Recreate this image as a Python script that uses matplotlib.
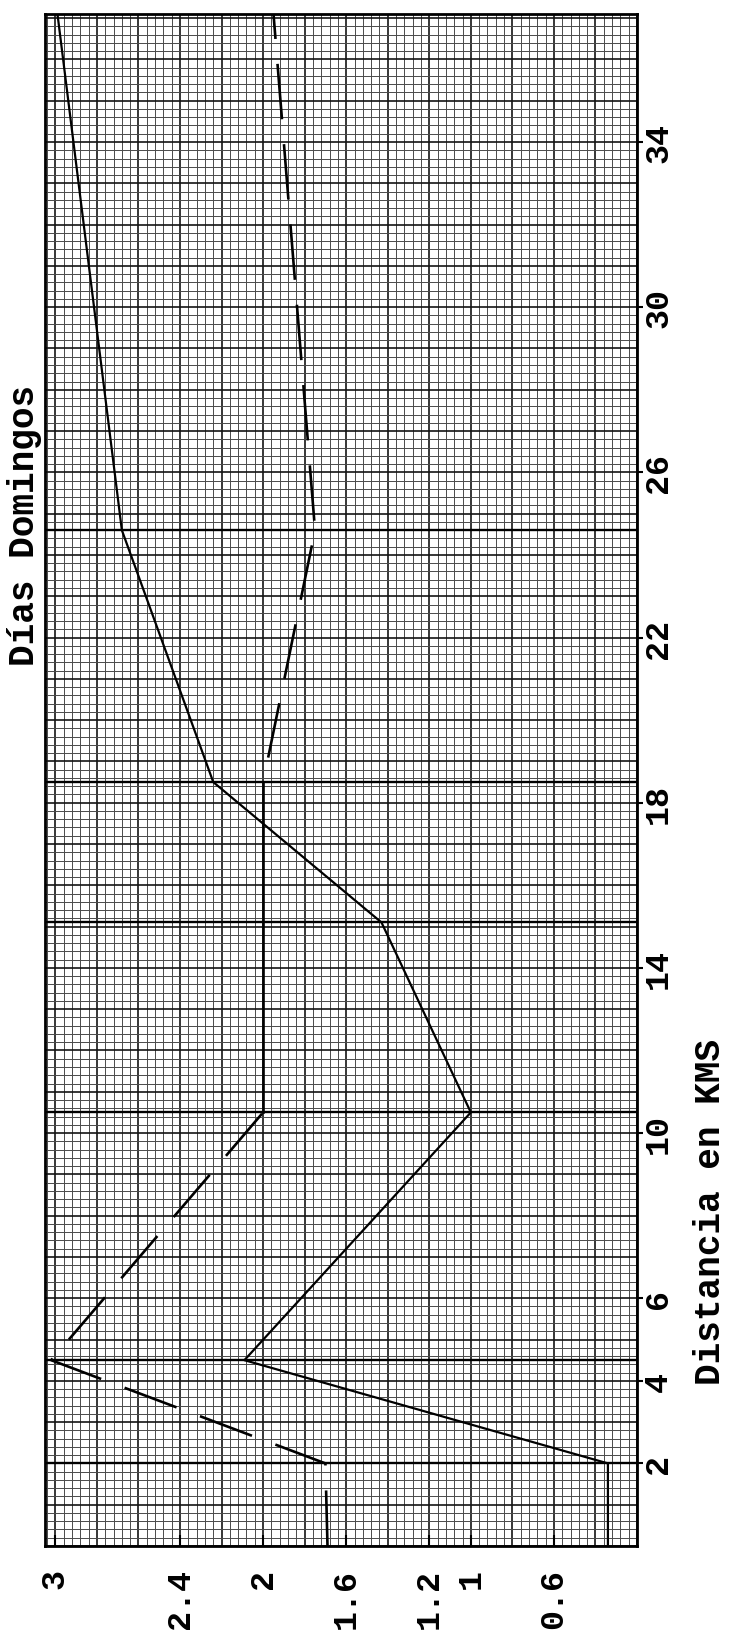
import numpy as np
import matplotlib
matplotlib.use("Agg")
import matplotlib.pyplot as plt

# Distance (km) and value for the solid series
solid_km = [0.0, 2.0, 4.5, 10.5, 15.1, 18.5, 24.6, 37.1]
solid_val = [0.34, 0.34, 2.09, 1.0, 1.43, 2.24, 2.68, 2.99]

# Distance (km) and value for the dashed series
dashed_km = [0.0, 2.0, 4.5, 10.5, 18.5, 24.6, 37.1]
dashed_val = [1.69, 1.70, 3.02, 2.0, 2.0, 1.75, 1.95]

value_ticks = [3, 2.4, 2, 1.6, 1.2, 1, 0.6]
value_labels = ["3", "2.4", "2", "1.6", "1.2", "1", "0.6"]
km_ticks = [2, 4, 6, 10, 14, 18, 22, 26, 30, 34]
km_labels = ["2", "4", "6", "10", "14", "18", "22", "26", "30", "34"]

VAL_LIM = (3.05, 0.2)
KM_LIM = (0.0, 37.1)

plt.rcParams["lines.scale_dashes"] = False
FONT = ["Liberation Mono", "DejaVu Sans Mono"]

fig = plt.figure(figsize=(7.41, 16.4), dpi=100)
ax = fig.add_axes([45 / 741, 1 - 1547 / 1640, 592 / 741, 1532 / 1640])
ax.set_xlim(*VAL_LIM)
ax.set_ylim(*KM_LIM)

# graph paper: fine rulings every 0.04 / 0.2 km, heavier every 0.2 / 1 km
fine_v = np.arange(0.2, 3.05 + 1e-9, 0.04)
fine_k = np.arange(0.0, 37.1 + 1e-9, 0.2)
for v in fine_v:
    major = abs(v / 0.2 - round(v / 0.2)) < 1e-6
    ax.axvline(v, color="#141414" if major else "#4a4a4a",
               lw=1.2 if major else 0.7, zorder=1)
for k in fine_k:
    major = abs(k - round(k)) < 1e-6
    ax.axhline(k, color="#141414" if major else "#4a4a4a",
               lw=1.2 if major else 0.7, zorder=1)

# reference rulings at each plotted distance
for k in solid_km[1:-1]:
    ax.axhline(k, color="black", lw=1.7, zorder=2)

# solid series
ax.plot(solid_val, solid_km, color="black", lw=1.6, zorder=4,
        solid_joinstyle="round")

# dashed series, with its constant stretch ruled solid
ax.plot(dashed_val[:4], dashed_km[:4], color="black", lw=1.9, zorder=4,
        linestyle=(0, (40, 18)))
ax.plot(dashed_val[3:5], dashed_km[3:5], color="black", lw=1.9, zorder=4)
ax.plot(dashed_val[4:], dashed_km[4:], color="black", lw=1.9, zorder=4,
        linestyle=(40, (40, 18)))

for s in ax.spines.values():
    s.set_linewidth(2.0)
    s.set_zorder(5)

ax.set_xticks(value_ticks)
ax.set_xticklabels(value_labels, rotation=90, fontsize=24,
                   family=FONT, fontweight="bold")
ax.tick_params(axis="x", direction="in", length=8, width=1.5, pad=16)

ax.yaxis.tick_right()
ax.set_yticks(km_ticks)
ax.set_yticklabels(km_labels, rotation=90, fontsize=24,
                   family=FONT, fontweight="bold", va="center")
ax.tick_params(axis="y", direction="out", length=4, width=1.5, pad=0.5)

fig.text(25 / 741, 1 - 525 / 1640, "Días Domingos", rotation=90,
         ha="center", va="center", fontsize=26, family=FONT,
         fontweight="bold")
fig.text(710 / 741, 1 - 1212 / 1640, "Distancia en KMS", rotation=90,
         ha="center", va="center", fontsize=26, family=FONT,
         fontweight="bold")

fig.savefig("out.png", dpi=100)
